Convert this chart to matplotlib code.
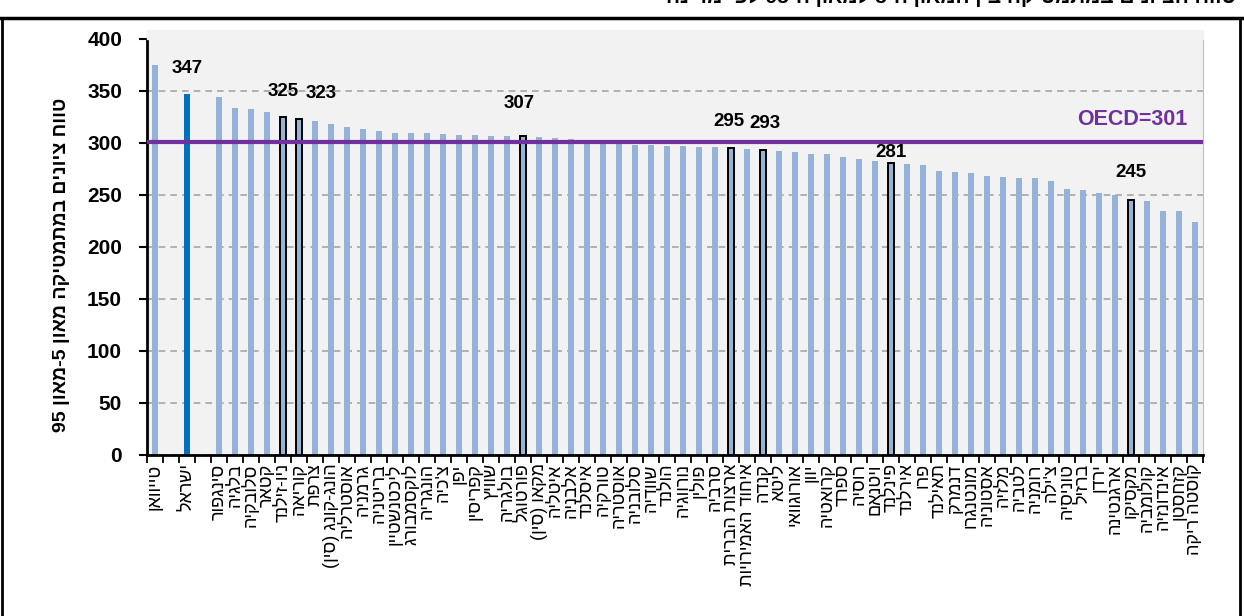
import re

import numpy as np
import matplotlib
matplotlib.use('Agg')
from matplotlib import pyplot as plt
from matplotlib.lines import Line2D
from matplotlib.patches import Rectangle

plt.rcParams['font.family'] = ['Liberation Sans', 'DejaVu Sans']

# '' = empty slot between groups
countries = ['טייוואן', '', 'ישראל', '', 'סינגפור', 'בלגיה', 'סלובקיה', 'קטאר',
             'ניו-זילנד', 'קוריאה', 'צרפת', 'הונג-קונג (סין)', 'אוסטרליה', 'גרמניה',
             'בריטניה', 'ליכטנשטיין', 'לוקסמבורג', 'הונגריה', "צ'כיה", 'יפן',
             'קפריסין', 'שוויץ', 'בולגריה', 'פורטוגל', 'מקאו (סין)', 'איטליה',
             'אלבניה', 'איסלנד', 'טורקיה', 'אוסטריה', 'סלובניה', 'שוודיה', 'הולנד',
             'נורווגיה', 'פולין', 'סרביה', 'ארצות הברית', 'איחוד האמירויות', 'קנדה',
             'ליטא', 'אורוגוואי', 'יוון', 'קרואטיה', 'ספרד', 'רוסיה', 'ויטנאם',
             'פינלנד', 'אירלנד', 'פרו', 'תאילנד', 'דנמרק', 'מונטנגרו', 'אסטוניה',
             'מלזיה', 'לטביה', 'רומניה', "צ'ילה", 'טוניסיה', 'ברזיל', 'ירדן',
             'ארגנטינה', 'מקסיקו', 'קולומביה', 'אינדונזיה', 'קזחסטן', 'קוסטה ריקה']
values = [375, np.nan, 347, np.nan, 344, 334, 333, 330,
          325, 323, 321, 318, 315, 313,
          312, 310, 310, 310, 309, 308,
          308, 307, 307, 307, 306, 305,
          304, 300, 300, 299, 298, 298, 297,
          297, 296, 296, 295, 294, 293,
          292, 291, 289, 289, 287, 285, 283,
          281, 280, 279, 273, 272, 271, 268,
          267, 266, 266, 263, 256, 255, 252,
          250, 245, 244, 235, 235, 224]
israel = 'ישראל'
highlighted = ['ניו-זילנד', 'קוריאה', 'פורטוגל', 'ארצות הברית', 'קנדה', 'פינלנד', 'מקסיקו']
oecd = 301

ylabel = 'טווח ציונים במתמטיקה מאון 5-מאון 95'
title = 'טווח הציונים במתמטיקה בין המאון ה-5 למאון ה-95 לפי מדינה'

# label placement (x shift in slots, y shift in score points)
label_offsets = {israel: (0, 25), 'ניו-זילנד': (0, 25), 'קוריאה': (1.4, 25),
                 'פורטוגל': (-0.25, 31), 'ארצות הברית': (-0.1, 26), 'קנדה': (0.1, 26),
                 'פינלנד': (0, 10), 'מקסיקו': (0, 27)}


def heb(s):
    # matplotlib has no bidi: build visual order by hand
    r = s[::-1].translate(str.maketrans('()', ')('))
    return re.sub(r'\d+', lambda m: m.group(0)[::-1], r)


W, H = 1244, 616
fig = plt.figure(figsize=(W / 100, H / 100), dpi=100)
ax = fig.add_axes([147 / W, 1 - 455 / H, (1203 - 147) / W, (455 - 39) / H])
fig.patches.append(Rectangle((147 / W, 1 - 39 / H), (1203 - 147) / W, 9 / H,
                             transform=fig.transFigure, color='#F2F2F2', zorder=0))

x = np.arange(len(countries))
colors = ['#0070C0' if c == israel else '#95B3D7' for c in countries]
edges = ['black' if c in highlighted else 'none' for c in countries]
lws = [1.4 if c in highlighted else 0 for c in countries]
ax.bar(x, values, width=0.42, color=colors, edgecolor=edges, linewidth=lws, zorder=2)

ax.axhline(oecd, color='#7030A0', lw=3, zorder=3)
ax.text(64.5, oecd + 22, 'OECD=%d' % oecd, color='#7030A0', fontsize=15.5,
        fontweight='bold', ha='right', va='center', zorder=4)

for name, (dx, dy) in label_offsets.items():
    i = countries.index(name)
    ax.text(x[i] + dx, values[i] + dy, '%d' % values[i], fontsize=13.5,
            fontweight='bold', ha='center', va='center', zorder=4)

ax.set_facecolor('#F2F2F2')
ax.set_xlim(-0.5, len(countries) - 0.5)
ax.set_ylim(0, 400)
ax.set_yticks(range(0, 401, 50))
ax.yaxis.grid(True, linestyle=(0, (4, 3)), color='#A6A6A6', lw=1.2)
ax.set_axisbelow(True)

ax.set_xticks(x)
ax.set_xticklabels([heb(c) for c in countries], rotation=90, fontsize=13,
                   va='top', ha='center')
ax.set_xticks(np.arange(-0.5, len(countries), 1), minor=True)
ax.tick_params(axis='x', which='major', length=0, pad=6)
ax.tick_params(axis='x', which='minor', length=6, width=1.3, direction='out')
ax.tick_params(axis='y', length=6, width=1.5, labelsize=15, pad=12, direction='out')
for lab in ax.get_yticklabels():
    lab.set_fontweight('bold')

ax.spines['top'].set_visible(False)
ax.spines['right'].set_color('#BFBFBF')
ax.spines['left'].set_linewidth(2)
ax.spines['bottom'].set_linewidth(2)

fig.text(62 / W, 1 - 265 / H, heb(ylabel), rotation=90, fontsize=14,
         fontweight='bold', ha='center', va='center')
fig.text(1236 / W, 1 - 3 / H, heb(title), fontsize=15, fontweight='bold',
         ha='right', va='baseline')

# chart frame
ytop = 1 - 18 / H
fig.add_artist(Line2D([0, 1], [ytop, ytop], color='black', lw=2.5, transform=fig.transFigure))
fig.add_artist(Line2D([1.5 / W, 1.5 / W], [0, ytop], color='black', lw=2, transform=fig.transFigure))
fig.add_artist(Line2D([1240 / W, 1240 / W], [0, ytop], color='black', lw=2, transform=fig.transFigure))

fig.savefig('out.png', dpi=100)
